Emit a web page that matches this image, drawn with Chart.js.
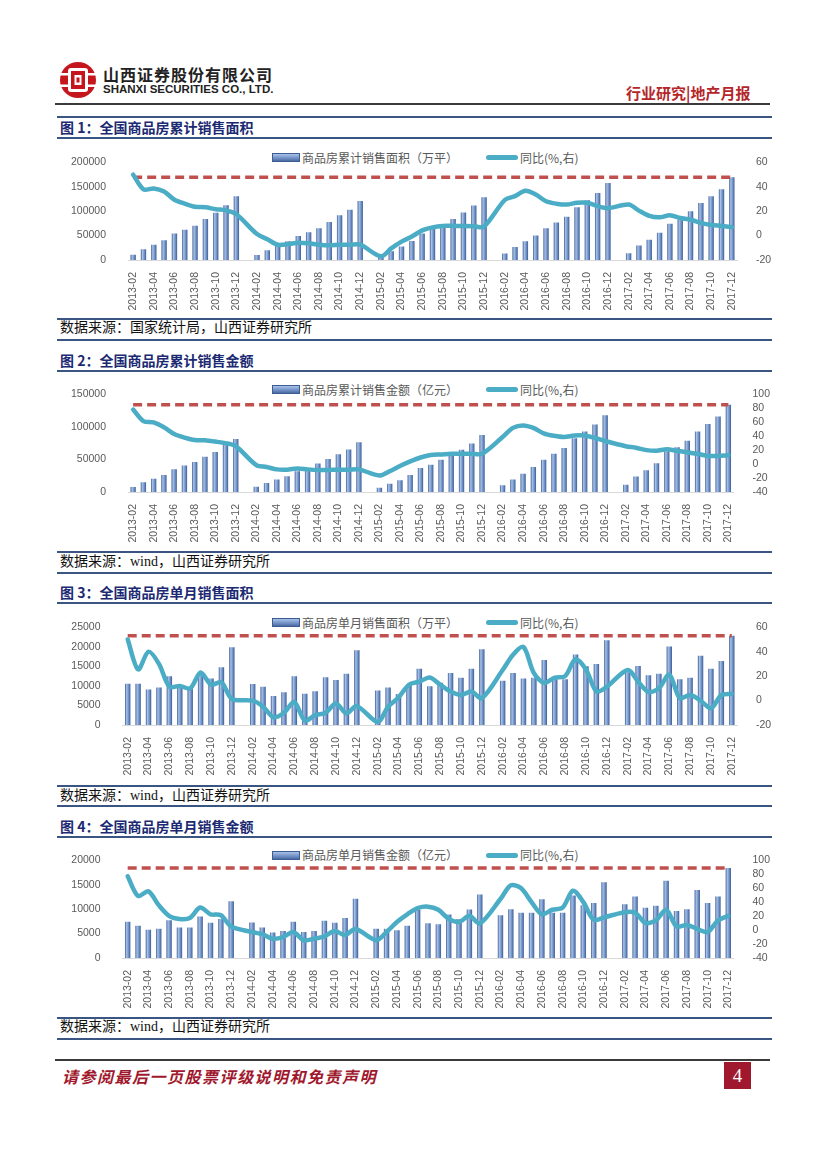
<!DOCTYPE html>
<html>
<head>
<meta charset="utf-8">
<script src="https://cdn.jsdelivr.net/npm/chart.js@4.4.1/dist/chart.umd.min.js"></script>
<style>
  body { margin: 0; background: #fff; }
  .page { position: relative; width: 827px; height: 1170px; background: #fff; overflow: hidden;
          font-family: "Noto Sans CJK SC", sans-serif; }
  .abs { position: absolute; white-space: nowrap; }
  .rule { position: absolute; left: 57px; width: 715px; height: 1.5px; background: #3b5583; }
  .cap { position: absolute; left: 60px; font-size: 14px; font-weight: bold; color: #1b2a72; line-height: 16px; }
  .src { position: absolute; left: 60px; font-size: 14px; color: #111; line-height: 16px;
         font-family: "Liberation Serif", "Noto Sans CJK SC", serif; }
  .lg { position: absolute; font-size: 12px; color: #595959; line-height: 14px; }
  .lg-bar { position: absolute; width: 26px; height: 7px; border: 1px solid #3c5d93;
            background: linear-gradient(#a9c1e6, #6f8fc5 60%, #4a6aa0); }
  .lg-line { position: absolute; width: 32px; height: 5px; border-radius: 3px; background: #4bacc6; }
  canvas { position: absolute; left: 0; }
</style>
</head>
<body>
<div class="page">
  <!-- header -->
  <svg class="abs" style="left:59px;top:61px" width="38" height="38" viewBox="0 0 38 38">
    <circle cx="19" cy="19" r="18" fill="#c4161c"/>
    <rect x="9" y="7" width="20" height="24" rx="3" fill="#fff"/>
    <rect x="12" y="10" width="14" height="18" fill="#c4161c"/>
    <rect x="15.5" y="14" width="7" height="10" fill="#fff"/>
    <rect x="17.5" y="16.5" width="3" height="5" fill="#c4161c"/>
    <rect x="1" y="12" width="8" height="2.5" fill="#fff"/>
    <rect x="29" y="12" width="8" height="2.5" fill="#fff"/>
    <rect x="1" y="23.5" width="8" height="2.5" fill="#fff"/>
    <rect x="29" y="23.5" width="8" height="2.5" fill="#fff"/>
  </svg>
  <div class="abs" style="left:103px;top:64px;font-size:16px;font-weight:bold;letter-spacing:1px;color:#222;line-height:20px">山西证券股份有限公司</div>
  <div class="abs" style="left:103px;top:83px;font-size:11.5px;font-weight:bold;color:#222;line-height:13px;font-family:'Liberation Sans Narrow','Liberation Sans',sans-serif">SHANXI SECURITIES CO., LTD.</div>
  <div class="abs" style="left:626px;top:84px;font-size:15px;font-weight:bold;color:#b5262b;line-height:18px">行业研究|地产月报</div>
  <div class="abs" style="left:55px;top:103px;width:715px;height:2px;background:#3a3a3a"></div>

  <!-- chart 1 -->
  <div class="rule" style="top:116px"></div>
  <div class="cap" style="top:119px">图 1：全国商品房累计销售面积</div>
  <div class="rule" style="top:137px"></div>
  <div class="lg-bar" style="left:272px;top:153px"></div>
  <div class="lg" style="left:302px;top:150.5px">商品房累计销售面积（万平）</div>
  <div class="lg-line" style="left:486px;top:155px"></div>
  <div class="lg" style="left:520px;top:150.5px">同比(%,右)</div>
  <canvas id="c1" width="827" height="169" style="top:143px"></canvas>
  <div class="rule" style="top:318px"></div>
  <div class="src" style="top:320px">数据来源：国家统计局，山西证券研究所</div>
  <div class="rule" style="top:339px"></div>

  <!-- chart 2 -->
  <div class="cap" style="top:351.5px">图 2：全国商品房累计销售金额</div>
  <div class="rule" style="top:370px"></div>
  <div class="lg-bar" style="left:272px;top:385px"></div>
  <div class="lg" style="left:302px;top:382.5px">商品房累计销售金额（亿元）</div>
  <div class="lg-line" style="left:486px;top:387px"></div>
  <div class="lg" style="left:520px;top:382.5px">同比(%,右)</div>
  <canvas id="c2" width="827" height="169" style="top:375px"></canvas>
  <div class="rule" style="top:551px"></div>
  <div class="src" style="top:553.5px">数据来源：wind，山西证券研究所</div>
  <div class="rule" style="top:572px"></div>

  <!-- chart 3 -->
  <div class="cap" style="top:584px">图 3：全国商品房单月销售面积</div>
  <div class="rule" style="top:602px"></div>
  <div class="lg-bar" style="left:272px;top:618px"></div>
  <div class="lg" style="left:302px;top:615.5px">商品房单月销售面积（万平）</div>
  <div class="lg-line" style="left:486px;top:620px"></div>
  <div class="lg" style="left:520px;top:615.5px">同比(%,右)</div>
  <canvas id="c3" width="827" height="169" style="top:608px"></canvas>
  <div class="rule" style="top:785px"></div>
  <div class="src" style="top:788px">数据来源：wind，山西证券研究所</div>
  <div class="rule" style="top:805px"></div>

  <!-- chart 4 -->
  <div class="cap" style="top:818px">图 4：全国商品房单月销售金额</div>
  <div class="rule" style="top:836px"></div>
  <div class="lg-bar" style="left:272px;top:850.5px"></div>
  <div class="lg" style="left:302px;top:848px">商品房单月销售金额（亿元）</div>
  <div class="lg-line" style="left:486px;top:852.5px"></div>
  <div class="lg" style="left:520px;top:848px">同比(%,右)</div>
  <canvas id="c4" width="827" height="169" style="top:841px"></canvas>
  <div class="rule" style="top:1017px"></div>
  <div class="src" style="top:1019px">数据来源：wind，山西证券研究所</div>
  <div class="rule" style="top:1038px"></div>

  <!-- footer -->
  <div class="abs" style="left:55px;top:1059px;width:715px;height:2px;background:#3a3a3a"></div>
  <div class="abs" style="left:62px;top:1067px;font-size:16px;font-weight:bold;font-style:italic;letter-spacing:1.5px;color:#a0182d;line-height:18px">请参阅最后一页股票评级说明和免责声明</div>
  <div class="abs" style="left:724px;top:1062px;width:27px;height:27px;background:#a0182d;color:#fff;font-size:19px;line-height:27px;text-align:center;font-family:'Liberation Serif',serif">4</div>
</div>

<script>
'use strict';
{
  // categories (January is merged into February, so January has no value)
  var months = [
    '2013-02','2013-03','2013-04','2013-05','2013-06','2013-07','2013-08','2013-09','2013-10','2013-11','2013-12',
    '2014-01','2014-02','2014-03','2014-04','2014-05','2014-06','2014-07','2014-08','2014-09','2014-10','2014-11','2014-12',
    '2015-01','2015-02','2015-03','2015-04','2015-05','2015-06','2015-07','2015-08','2015-09','2015-10','2015-11','2015-12',
    '2016-01','2016-02','2016-03','2016-04','2016-05','2016-06','2016-07','2016-08','2016-09','2016-10','2016-11','2016-12',
    '2017-01','2017-02','2017-03','2017-04','2017-05','2017-06','2017-07','2017-08','2017-09','2017-10','2017-11','2017-12'
  ];

  // 图1 累计销售面积（万平）
  var cumArea = [
    10880, 21800, 31000, 40500, 54000, 61700, 70000, 84000, 96600, 112000, 130551,
    null, 10000, 20000, 28700, 38600, 49000, 57000, 65000, 78000, 91600, 103000, 120649,
    null, 9300, 18000, 27500, 39000, 54000, 63500, 70000, 84000, 97000, 111500, 128495,
    null, 13500, 26800, 38600, 50000, 65000, 76600, 88500, 108000, 122000, 137000, 157349,
    null, 14000, 29500, 41500, 55500, 74000, 83000, 100000, 116500, 130500, 145000, 169408
  ];
  var cumAreaYoy = [
    49.8, 37.8, 38.6, 36, 29.3, 26.1, 23.6, 23.1, 21.6, 20.6, 17.4,
    null, 1.2, -3, -7.5, -7, -5.8, -6.3, -7.5, -8, -7.5, -7.5, -7.5,
    null, -17, -10.5, -5, -0.8, 4.2, 6.7, 7.9, 7.9, 7.9, 7.7, 7.4,
    null, 29.1, 32.3, 36.6, 33.6, 28.1, 26.1, 25.4, 26.9, 26.9, 24.1, 22.4,
    null, 25.4, 20.4, 16.1, 14.9, 16.6, 14.4, 12.9, 10.4, 8.7, 7.9, 6.9
  ];

  // 图2 累计销售金额（亿元）
  var cumAmount = [
    7500, 14900, 20500, 26000, 35000, 40500, 46000, 54000, 61500, 73000, 81428,
    null, 7900, 14000, 19000, 24200, 32000, 36500, 43800, 50800, 57800, 65200, 76292,
    null, 6500, 12600, 18200, 26000, 36800, 42000, 49400, 59000, 65000, 74500, 87281,
    null, 10200, 19000, 28000, 38200, 49400, 58700, 67500, 82400, 93000, 103400, 117627,
    null, 11200, 23800, 33500, 44300, 62400, 68500, 78700, 93000, 104300, 116000, 133701
  ];
  var cumAmountYoy = [
    78, 61.5, 59.7, 52.7, 43, 37.9, 34.4, 34, 32.2, 30, 25.6,
    null, -1.5, -4.1, -7.6, -8, -6.3, -7.6, -8.5, -8.5, -8, -8, -7.6,
    null, -16.4, -10.2, -2.8, 3.8, 9.4, 13, 13.8, 14.7, 14.7, 14.7, 14.7,
    null, 38.8, 51.8, 55.4, 51.8, 44, 40.5, 38.8, 41, 41, 37.4, 33,
    null, 25.6, 23.4, 20, 19, 21.3, 19, 16.9, 14.7, 11.6, 11.6, 12.5
  ];

  // 图3 单月销售面积（万平）
  var monArea = [
    10550, 10550, 9100, 9600, 12500, 10000, 9400, 13300, 11900, 14800, 19900,
    null, 10500, 9800, 7400, 8400, 12500, 8000, 8600, 12200, 11500, 13100, 19100,
    null, 8800, 9600, 7900, 10100, 14400, 9900, 10800, 13300, 12100, 14400, 19400,
    null, 11300, 13300, 11900, 12100, 16600, 11700, 11700, 18000, 15000, 15600, 21700,
    null, 13500, 15100, 12700, 13100, 20100, 11700, 12100, 17700, 14400, 16400, 22800
  ];
  var monAreaYoy = [
    50, 25.5, 40, 30, 11.3, 12, 10, 23, 13, 15, 1.3,
    null, 0, -5, -13.8, -10, -1.3, -16.3, -12, -10, -2.5, -10.5, -4.5,
    null, -17.5, -5, 2.5, 13, 15.5, 18.8, 13, 7.5, 4.5, 7.5, 2,
    null, 25, 37.5, 43.8, 22.5, 14.5, 18.8, 20, 33.8, 25.5, 7.5, 11.3,
    null, 25, 15.5, 7, 10, 21.3, 2, 4.5, 0, -6.3, 4.5, 5.5
  ];

  // 图4 单月销售金额（亿元）
  var monAmount = [
    7400, 6600, 5800, 6000, 7700, 6250, 6250, 8500, 7200, 8000, 11600,
    null, 7250, 6250, 5200, 5500, 7400, 5300, 5500, 7600, 7200, 8200, 12100,
    null, 6000, 6000, 5700, 6600, 9800, 7100, 6900, 8900, 8000, 9900, 13000,
    null, 8750, 10000, 9250, 9250, 12000, 9250, 9250, 12800, 10800, 11250, 15500,
    null, 11000, 12600, 10300, 10700, 15800, 9600, 10000, 13900, 11250, 12600, 18400
  ];
  var monAmountYoy = [
    77, 48.8, 55.4, 35.7, 20.4, 16, 17.3, 32.2, 22.6, 21.3, 5.1,
    null, -2.8, -5.9, -12.4, -10.2, -2.8, -14.6, -12.4, -8.9, -1.5, -7.2, 1.6,
    null, -14.6, -2.8, 11.6, 22.6, 31.3, 33.5, 29.1, 16, 11.6, 20.4, 9.4,
    null, 44.5, 64.1, 59.8, 40, 22.6, 29.1, 32.2, 56.3, 40, 14.7, 18.2,
    null, 25.6, 24.8, 10.3, 13.8, 29.1, 5.1, 7.3, 1.6, -2.8, 13.8, 20.4
  ];

  // red dashed reference level (latest value) per chart
  var refLevels = [169408, 133701, 22800, 18400];

  var tickColor = '#595959';
  var tickFont = { family: 'Liberation Sans', size: 10.5, lineHeight: 1 };

  function barFill(c) {
    var flat = '#6f8fc5';
    if (c.type !== 'data') return flat;
    var xs = c.chart.scales.x;
    if (!xs) return flat;
    var x = xs.getPixelForValue(c.dataIndex);
    if (!isFinite(x)) return flat;
    var g = c.chart.ctx.createLinearGradient(x - 2.7, 0, x + 2.7, 0);
    g.addColorStop(0, '#3c5d93');
    g.addColorStop(0.3, '#a9c1e6');
    g.addColorStop(0.65, '#7093c9');
    g.addColorStop(1, '#3c5d93');
    return g;
  }

  function makeChart(id, bars, yoy, ref, leftMax, leftStep, rightMin, rightMax, leftW, rightW) {
    var ctx = document.getElementById(id).getContext('2d');
    return new Chart(ctx, {
      type: 'bar',
      data: {
        labels: months,
        datasets: [{
          type: 'line',
          data: yoy,
          yAxisID: 'y1',
          borderColor: '#4bacc6',
          borderWidth: 4.5,
          borderCapStyle: 'round',
          borderJoinStyle: 'round',
          pointRadius: 0,
          tension: 0.3,
          spanGaps: true,
          order: 1,
        }, {
          type: 'line',
          data: [{ x: months[0], y: ref }, { x: months[months.length - 1], y: ref }],
          yAxisID: 'y',
          borderColor: '#c0504d',
          borderWidth: 3.5,
          borderDash: [9, 5],
          pointRadius: 0,
          order: 2,
        }, {
          data: bars,
          yAxisID: 'y',
          backgroundColor: barFill,
          barPercentage: 0.52,
          categoryPercentage: 1,
          order: 3,
        }],
      },
      options: {
        responsive: false,
        animation: false,
        layout: { padding: { top: 10, bottom: 0, left: 0, right: 0 } },
        plugins: {
          legend: { display: false },
          tooltip: { enabled: false },
        },
        scales: {
          x: {
            offset: true,
            grid: { display: false },
            border: { display: true, color: '#d9d9d9' },
            ticks: {
              autoSkip: false,
              minRotation: 90,
              maxRotation: 90,
              padding: 4,
              color: tickColor,
              font: tickFont,
              callback: function (value, index) {
                return index % 2 ? '' : this.getLabelForValue(value);
              },
            },
            afterFit: function (s) { s.height = 52; },
          },
          y: {
            position: 'left',
            min: 0,
            max: leftMax,
            grid: { display: false },
            border: { display: false },
            ticks: {
              stepSize: leftStep,
              autoSkip: false,
              padding: 14,
              color: tickColor,
              font: tickFont,
              callback: function (value) { return String(value); },
            },
            afterFit: function (s) { s.width = leftW; },
          },
          y1: {
            position: 'right',
            min: rightMin,
            max: rightMax,
            grid: { display: false },
            border: { display: false },
            ticks: {
              stepSize: 20,
              autoSkip: false,
              padding: 11,
              color: tickColor,
              font: tickFont,
            },
            afterFit: function (s) { s.width = rightW; },
          },
        },
      },
    });
  }

  makeChart('c1', cumArea, cumAreaYoy, refLevels[0], 200000, 50000, -20, 60, 128, 90);
  makeChart('c2', cumAmount, cumAmountYoy, refLevels[1], 150000, 50000, -40, 100, 128, 93.5);
  makeChart('c3', monArea, monAreaYoy, refLevels[2], 25000, 5000, -20, 60, 122.5, 90);
  makeChart('c4', monAmount, monAmountYoy, refLevels[3], 20000, 5000, -40, 100, 122.5, 93.5);
}
</script>
</body>
</html>
